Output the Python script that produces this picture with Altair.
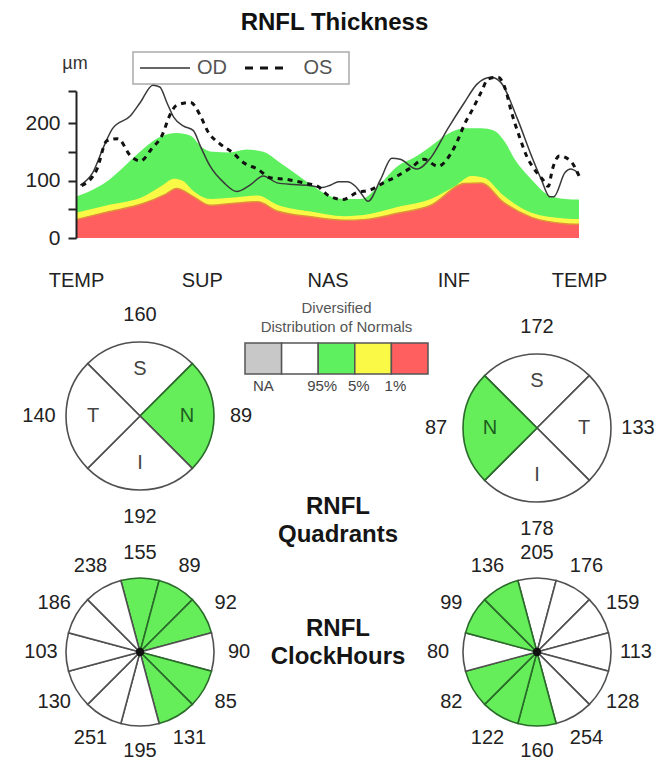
import math
import altair as alt
import pandas as pd

FONT = "Liberation Sans"

# ---------------- RNFL thickness profile (degrees along TSNIT, µm) ----------------
green_x = [0, 12, 24, 36, 48, 60, 72, 82, 90, 98, 110, 122, 134, 146, 156, 168, 180, 192, 204, 218, 230, 242, 254, 266, 278, 290, 299, 307, 314, 326, 338, 350, 360]
green_v = [72, 84, 102, 128, 155, 176, 183, 178, 158, 150, 149, 154, 150, 131, 114, 93, 75, 68, 68, 95, 125, 140, 160, 181, 191, 191, 187, 167, 137, 102, 75, 68, 67]

yellow_x = [0, 24, 48, 62, 70, 76, 84, 96, 115, 130, 144, 168, 192, 206, 230, 254, 271, 283, 292, 306, 326, 350, 360]
yellow_v = [44, 58, 72, 92, 103, 100, 82, 68, 71, 74, 58, 46, 38, 40, 54, 68, 90, 108, 105, 74, 44, 34, 33]

red_x = [0, 24, 48, 64, 72, 84, 96, 115, 130, 144, 168, 192, 206, 230, 254, 278, 290, 306, 326, 350, 360]
red_v = [32, 46, 60, 76, 86, 72, 57, 61, 63, 47, 37, 31, 32, 43, 57, 95, 96, 62, 36, 25, 24]

od_x = [3, 12, 20, 26, 39, 46, 55, 60, 65, 70, 77, 84, 89, 96, 106, 115, 125, 134, 144, 156, 168, 176, 182, 188, 194, 200, 204, 209, 218, 226, 232, 244, 254, 266, 278, 287, 297, 304, 316, 326, 333, 339, 342, 350, 354, 359]
od_v = [92, 114, 160, 190, 213, 236, 266, 263, 236, 210, 195, 187, 160, 125, 96, 81, 93, 108, 96, 93, 91, 88, 92, 98, 98, 90, 78, 64, 102, 139, 137, 120, 140, 190, 236, 268, 280, 271, 207, 143, 102, 72, 72, 114, 120, 114]

os_x = [4, 15, 22, 30, 39, 46, 54, 62, 67, 72, 82, 89, 94, 103, 112, 120, 130, 139, 151, 163, 173, 180, 191, 201, 211, 220, 230, 240, 249, 259, 268, 273, 278, 284, 290, 295, 302, 308, 311, 318, 323, 328, 334, 338, 341, 346, 354, 360]
os_v = [91, 120, 169, 173, 143, 134, 155, 181, 213, 231, 236, 213, 187, 164, 149, 131, 120, 105, 102, 96, 90, 75, 67, 79, 84, 96, 108, 123, 137, 125, 146, 169, 198, 225, 254, 277, 280, 254, 225, 172, 140, 120, 102, 90, 120, 143, 134, 108]

x_tick_vals = [0, 90, 180, 270, 360]
x_tick_labels = ["TEMP", "SUP", "NAS", "INF", "TEMP"]
y_tick_vals = [0, 50, 100, 150, 200, 256]
y_label_vals = [0, 100, 200]

# ---------------- Quadrants and clock hours ----------------
quad_od_names = ["S", "N", "I", "T"]
quad_od_values = [160, 89, 192, 140]
quad_od_status = ["normal", "green", "normal", "normal"]

quad_os_names = ["S", "T", "I", "N"]
quad_os_values = [172, 133, 178, 87]
quad_os_status = ["normal", "normal", "normal", "green"]

clock_od_values = [155, 89, 92, 90, 85, 131, 195, 251, 130, 103, 186, 238]
clock_od_status = ["green", "green", "green", "normal", "green", "green",
                   "normal", "normal", "normal", "normal", "normal", "normal"]

clock_os_values = [205, 176, 159, 113, 128, 254, 160, 122, 82, 80, 99, 136]
clock_os_status = ["normal", "normal", "normal", "normal", "normal", "normal",
                   "green", "green", "green", "normal", "green", "green"]

# ---------------- Normative legend ----------------
legend_cats = ["NA", "WNL", "95", "5", "1"]
legend_fill = ["#c8c8c8", "#ffffff", "#5ef05e", "#fafa46", "#ff5f5f"]
legend_edge_cats = ["95", "5", "1"]
legend_edge_labels = ["95%", "5%", "1%"]
legend_title = ["Diversified", "Distribution of Normals"]
caption_quadrants = ["RNFL", "Quadrants"]
caption_clock = ["RNFL", "ClockHours"]

# =====================================================================
X = alt.Scale(domain=[0, 360], nice=False, zero=False)
Y = alt.Scale(domain=[0, 256], nice=False)

x_expr = " : ".join(f"datum.value == {v} ? '{l}'" for v, l in zip(x_tick_vals, x_tick_labels)) + " : ''"
y_expr = "indexof([" + ",".join(str(v) for v in y_label_vals) + "], datum.value) >= 0 ? datum.label : ''"

x_axis = alt.Axis(values=x_tick_vals, labelExpr=x_expr, title=None, domain=False, ticks=False,
                  tickSize=0, grid=False, labelPadding=32, labelFontSize=20, labelFont=FONT,
                  labelColor="#222", labelFlush=False, labelOverlap=False)
y_axis = alt.Axis(values=y_tick_vals, labelExpr=y_expr, title=None, grid=False, domainColor="#222",
                  domainWidth=2, tickColor="#222", tickWidth=2, tickSize=8, labelPadding=8,
                  labelFontSize=21, labelFont=FONT, labelColor="#222", zindex=1)


def band(xs, vs, color):
    df = pd.DataFrame({"deg": xs, "um": vs})
    return alt.Chart(df).mark_area(color=color, interpolate="monotone").encode(
        x=alt.X("deg:Q", scale=X, axis=x_axis), y=alt.Y("um:Q", scale=Y, axis=y_axis))


def curve(xs, vs, **kw):
    df = pd.DataFrame({"deg": xs, "um": vs})
    return alt.Chart(df).mark_line(interpolate="monotone", **kw).encode(
        x=alt.X("deg:Q", scale=X, axis=x_axis), y=alt.Y("um:Q", scale=Y, axis=y_axis))


one = pd.DataFrame({"a": [0]})
key_box = alt.Chart(one).mark_rect(fill="white", stroke="#aaaaaa", strokeWidth=1.5).encode(
    x=alt.value(57), x2=alt.value(273), y=alt.value(-39), y2=alt.value(-7))
key_od = alt.Chart(one).mark_rule(color="#333", strokeWidth=1.5).encode(
    x=alt.value(64), x2=alt.value(114), y=alt.value(-23))
key_os = alt.Chart(one).mark_rule(color="#111", strokeWidth=3, strokeDash=[8, 7]).encode(
    x=alt.value(169), x2=alt.value(212), y=alt.value(-23))
key_od_t = alt.Chart(one).mark_text(text="OD", fontSize=20, font=FONT, color="#555").encode(
    x=alt.value(136), y=alt.value(-23))
key_os_t = alt.Chart(one).mark_text(text="OS", fontSize=20, font=FONT, color="#555").encode(
    x=alt.value(242), y=alt.value(-23))
unit_t = alt.Chart(one).mark_text(text="µm", fontSize=18, font=FONT, color="#333").encode(
    x=alt.value(-1), y=alt.value(-27))

top = alt.layer(
    band(green_x, green_v, "#5ef05e"),
    band(yellow_x, yellow_v, "#fafa46"),
    band(red_x, red_v, "#ff5f5f"),
    curve(red_x, red_v, color="#e0903a", strokeWidth=1.5),
    key_box, key_od, key_os, key_od_t, key_os_t, unit_t,
    curve(od_x, od_v, color="#3a3a3a", strokeWidth=1.5),
    curve(os_x, os_v, color="#111111", strokeWidth=3, strokeDash=[5, 5]),
).properties(
    width=503, height=147,
    title=alt.TitleParams("RNFL Thickness", fontSize=24, font=FONT, fontWeight="bold",
                          color="#111", anchor="middle", dx=7, offset=16),
)


def pie(values, status, start_deg, w, h, names=None, hub=False):
    n = len(values)
    df = pd.DataFrame({"idx": list(range(n)), "one": [1] * n, "value": values,
                       "status": status, "name": names if names else [""] * n})
    start = math.radians(start_deg)
    theta = alt.Theta("one:Q", stack=True,
                      scale=alt.Scale(domain=[0, n], range=[start, start + 2 * math.pi]))
    order = alt.Order("idx:Q")
    base = alt.Chart(df)
    arcs = base.mark_arc(radius=74, strokeWidth=1.6).encode(
        theta=theta, order=order,
        fill=alt.Fill("status:N", scale=alt.Scale(domain=["normal", "green"], range=["#ffffff", "#66ee5a"]), legend=None),
        stroke=alt.Stroke("status:N", scale=alt.Scale(domain=["normal", "green"], range=["#505050", "#2a6a2a"]), legend=None),
    )
    labels = base.mark_text(radius=101 if names else 99, fontSize=20, font=FONT, color="#222").encode(
        theta=theta, order=order, text="value:Q")
    layers = [arcs, labels]
    if names:
        letters = base.mark_text(radius=47, fontSize=20, font=FONT).encode(
            theta=theta, order=order, text="name:N",
            color=alt.Color("status:N", scale=alt.Scale(domain=["normal", "green"], range=["#444444", "#1d5e1d"]), legend=None))
        layers.append(letters)
    if hub:
        layers.append(alt.Chart(one).mark_circle(size=70, color="#111", opacity=1).encode(opacity=alt.value(1)))
    return alt.layer(*layers).properties(width=w, height=h)


quad_od = pie(quad_od_values, quad_od_status, 315, 128, 146, names=quad_od_names)
quad_os = pie(quad_os_values, quad_os_status, 315, 136, 170, names=quad_os_names)
clock_od = pie(clock_od_values, clock_od_status, 345, 128, 68, hub=True)
clock_os = pie(clock_os_values, clock_os_status, 345, 136, 68, hub=True)

# legend view (with the two centre captions)
LX = alt.Scale(domain=legend_cats, paddingInner=0, paddingOuter=0)
leg_boxes = alt.Chart(pd.DataFrame({"cat": legend_cats})).mark_rect(stroke="#555", strokeWidth=1.5).encode(
    x=alt.X("cat:N", scale=LX, axis=None, sort=legend_cats), y=alt.value(0), y2=alt.value(31),
    fill=alt.Fill("cat:N", scale=alt.Scale(domain=legend_cats, range=legend_fill), legend=None))
leg_na = alt.Chart(pd.DataFrame({"cat": ["NA"], "lab": ["NA"]})).mark_text(
    fontSize=15, font=FONT, color="#444").encode(
    x=alt.X("cat:N", scale=LX, axis=None, sort=legend_cats, bandPosition=0.5), y=alt.value(43), text="lab:N")
leg_pct = alt.Chart(pd.DataFrame({"cat": legend_edge_cats, "lab": legend_edge_labels})).mark_text(
    fontSize=15, font=FONT, color="#444", dx=4).encode(
    x=alt.X("cat:N", scale=LX, axis=None, sort=legend_cats, bandPosition=0), y=alt.value(43), text="lab:N")


def caption(txt, y):
    return alt.Chart(one).mark_text(text=txt, fontSize=24, font=FONT, fontWeight="bold", color="#151515").encode(
        x=alt.value(93), y=alt.value(y))


legend_view = alt.layer(
    leg_boxes, leg_na, leg_pct,
    caption(caption_quadrants[0], 164), caption(caption_quadrants[1], 192),
    caption(caption_clock[0], 286), caption(caption_clock[1], 314),
).properties(
    width=183, height=31,
    title=alt.TitleParams(legend_title, fontSize=15, font=FONT, fontWeight="normal",
                          color="#555", lineHeight=19, anchor="middle", offset=7),
)

indep = dict(theta="independent", fill="independent", stroke="independent", color="independent")

row2 = alt.hconcat(quad_od, legend_view, quad_os, spacing=41, bounds="flush").resolve_scale(**indep)
row3 = alt.hconcat(clock_od, clock_os, spacing=265, bounds="flush").resolve_scale(**indep)
bottom = alt.vconcat(row2, row3, spacing=275, bounds="flush").resolve_scale(**indep)

chart = alt.vconcat(top, bottom, spacing=105, bounds="flush").resolve_scale(**indep).properties(
    padding={"left": 14, "top": 2, "right": 5, "bottom": 0},
    background="white",
).configure_view(stroke="transparent")

chart.save("out.html", embed_options={"renderer": "svg", "actions": False})
